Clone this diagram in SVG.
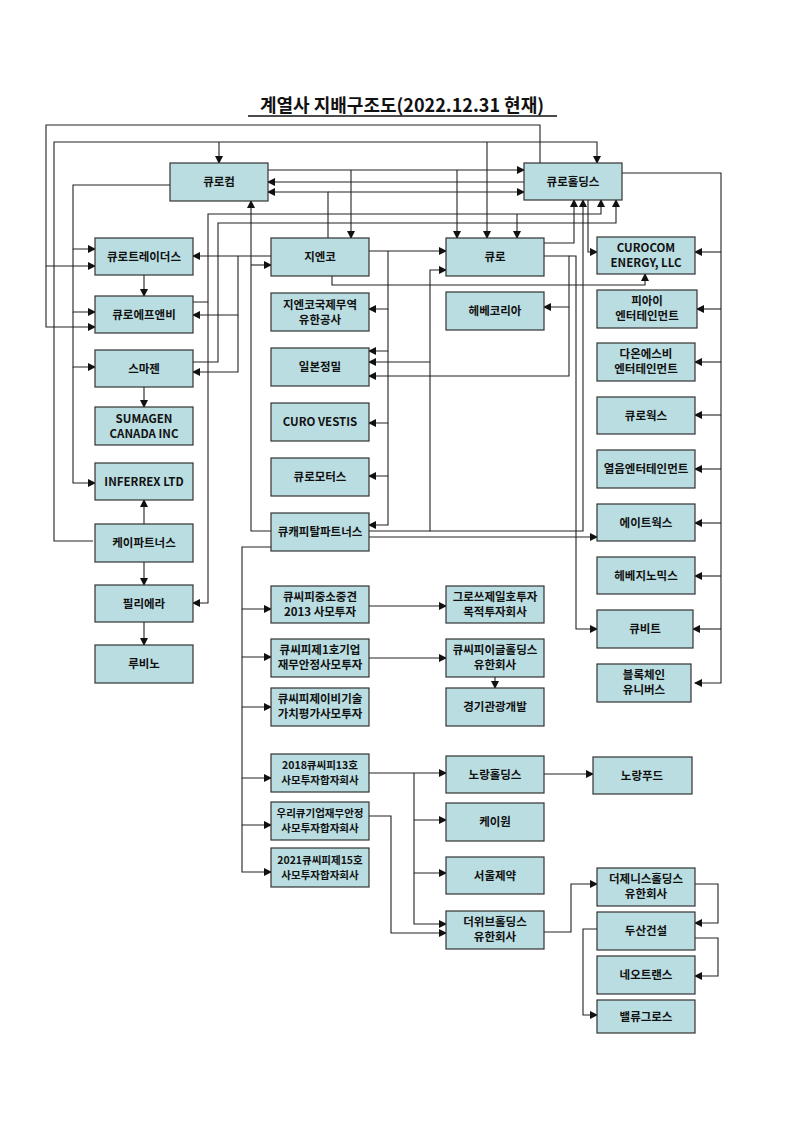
<svg xmlns="http://www.w3.org/2000/svg" width="793" height="1123" viewBox="0 0 793 1123">
<style>
.b rect{fill:#b9dde1;stroke:#333;stroke-width:1.2}
.b text,.t{font-family:"Noto Sans CJK KR","Noto Sans",sans-serif;font-weight:bold;font-size:11.5px;fill:#111;text-anchor:middle}
.s text{font-size:10.5px}
#c path{fill:none;stroke:#222;stroke-width:1.1}
#c path.a{marker-end:url(#ar)}
</style>
<defs><marker id="ar" markerWidth="8" markerHeight="8" refX="7" refY="4" orient="auto" markerUnits="userSpaceOnUse"><path d="M0,0L8,4L0,8z" fill="#111"/></marker></defs>
<rect width="793" height="1123" fill="#fff"/>
<text class="t" x="402" y="112" style="font-size:18px">계열사 지배구조도(2022.12.31 현재)</text>
<line x1="248" y1="116" x2="557" y2="116" stroke="#111" stroke-width="1.3"/>
<g id="c">
<path class="a" d="M540,163V125H46V266H95"/><path class="a" d="M46,266V327H95"/>
<path class="a" d="M93,541H54V142H597V163"/><path class="a" d="M219,142V163"/><path class="a" d="M487,142V238"/>
<path class="a" d="M170,185H73V249H95"/><path class="a" d="M73,249V312H95"/><path class="a" d="M73,312V367H95"/><path class="a" d="M73,367V483H95"/>
<path class="a" d="M268,170H524"/><path class="a" d="M351,170V238"/><path class="a" d="M457,170V238"/>
<path class="a" d="M524,182H268"/>
<path class="a" d="M328,238V192H268"/><path class="a" d="M328,192H524"/>
<path class="a" d="M193,302H208V214H601V200"/><path class="a" d="M517,214V238"/><path class="a" d="M208,302V603H193"/>
<path class="a" d="M193,362H218V223H616V200"/>
<path class="a" d="M271,531H251V201"/><path class="a" d="M251,265H271"/>
<path class="a" d="M271,256H193"/><path class="a" d="M238,256V315H193"/><path class="a" d="M238,315V372H193"/>
<path class="a" d="M144,275V296"/><path class="a" d="M144,387V407"/><path class="a" d="M144,524V500"/><path class="a" d="M144,562V585"/><path class="a" d="M144,622V645"/>
<path class="a" d="M369,251H446"/><path class="a" d="M388,251V309H369"/><path class="a" d="M388,309V351H369"/><path class="a" d="M388,351V423H369"/><path class="a" d="M388,423V476H369"/><path class="a" d="M388,476V525H369"/>
<path class="a" d="M332,276V285H645V274"/>
<path class="a" d="M369,531H430V270H446"/><path class="a" d="M430,362H369"/>
<path class="a" d="M430,531H583V200"/>
<path class="a" d="M544,243H574V200"/>
<path class="a" d="M588,200V252H597"/>
<path class="a" d="M544,256H569V307H544"/><path class="a" d="M569,307V376H369"/>
<path class="a" d="M569,256H576V629H597"/>
<path class="a" d="M369,537H597"/>
<path class="a" d="M622,173H721V683H695"/>
<path class="a" d="M721,252H695"/><path class="a" d="M721,309H697"/><path class="a" d="M721,362H695"/><path class="a" d="M721,415H695"/><path class="a" d="M721,469H695"/><path class="a" d="M721,523H695"/><path class="a" d="M721,576H695"/><path class="a" d="M721,629H693"/>
<path class="a" d="M271,547H242V609H271"/><path class="a" d="M242,609V657H271"/><path class="a" d="M242,657V707H271"/><path class="a" d="M242,707V778H271"/><path class="a" d="M242,778V825H271"/><path class="a" d="M242,825V872H271"/>
<path class="a" d="M369,606H446"/><path class="a" d="M369,658H446"/><path class="a" d="M495,677V688"/>
<path class="a" d="M369,773H446"/><path class="a" d="M414,773V820H446"/><path class="a" d="M414,820V873H446"/><path class="a" d="M414,873V924H446"/>
<path class="a" d="M369,816H391V933H446"/>
<path class="a" d="M544,774H593"/>
<path class="a" d="M544,932H571V884H597"/>
<path class="a" d="M695,884H718V923H695"/>
<path class="a" d="M695,938H718V976H695"/>
<path class="a" d="M597,929H583V1015H597"/>
</g>
<g id="n-curocom" class="b"><rect x="170" y="163" width="98" height="38"/><text x="219" y="186">큐로컴</text></g>
<g id="n-holdings" class="b"><rect x="524" y="163" width="98" height="37"/><text x="573" y="186">큐로홀딩스</text></g>
<g id="n-traders" class="b"><rect x="95" y="238" width="98" height="37"/><text x="144" y="261">큐로트레이더스</text></g>
<g id="n-fnb" class="b"><rect x="95" y="296" width="98" height="37"/><text x="144" y="319">큐로에프앤비</text></g>
<g id="n-sumagen" class="b"><rect x="95" y="350" width="98" height="37"/><text x="144" y="373">스마젠</text></g>
<g id="n-sumagenca" class="b"><rect x="95" y="407" width="98" height="38"/><text x="144" y="423">SUMAGEN</text><text x="144" y="438">CANADA INC</text></g>
<g id="n-inferrex" class="b"><rect x="95" y="463" width="98" height="37"/><text x="144" y="486">INFERREX LTD</text></g>
<g id="n-kpartners" class="b"><rect x="95" y="524" width="98" height="38"/><text x="144" y="547">케이파트너스</text></g>
<g id="n-philiera" class="b"><rect x="95" y="585" width="98" height="37"/><text x="144" y="608">필리에라</text></g>
<g id="n-rubino" class="b"><rect x="95" y="645" width="98" height="38"/><text x="144" y="668">루비노</text></g>
<g id="n-gnco" class="b"><rect x="271" y="238" width="98" height="38"/><text x="320" y="261">지엔코</text></g>
<g id="n-gncointl" class="b"><rect x="271" y="293" width="98" height="38"/><text x="320" y="309">지엔코국제무역</text><text x="320" y="324">유한공사</text></g>
<g id="n-ilbon" class="b"><rect x="271" y="348" width="98" height="38"/><text x="320" y="371">일본정밀</text></g>
<g id="n-vestis" class="b"><rect x="271" y="403" width="98" height="38"/><text x="320" y="426">CURO VESTIS</text></g>
<g id="n-motors" class="b"><rect x="271" y="458" width="98" height="38"/><text x="320" y="481">큐로모터스</text></g>
<g id="n-qcap" class="b"><rect x="271" y="513" width="98" height="38"/><text x="320" y="536">큐캐피탈파트너스</text></g>
<g id="n-curo" class="b"><rect x="446" y="238" width="98" height="38"/><text x="495" y="261">큐로</text></g>
<g id="n-hebekorea" class="b"><rect x="446" y="292" width="98" height="38"/><text x="495" y="315">헤베코리아</text></g>
<g id="n-energy" class="b"><rect x="597" y="237" width="98" height="37"/><text x="646" y="252">CUROCOM</text><text x="646" y="267">ENERGY, LLC</text></g>
<g id="n-pi" class="b"><rect x="597" y="290" width="100" height="38"/><text x="647" y="305">피아이</text><text x="647" y="320">엔터테인먼트</text></g>
<g id="n-daon" class="b"><rect x="597" y="343" width="98" height="38"/><text x="646" y="358">다온에스비</text><text x="646" y="373">엔터테인먼트</text></g>
<g id="n-works" class="b"><rect x="597" y="397" width="98" height="37"/><text x="646" y="420">큐로웍스</text></g>
<g id="n-yeoleum" class="b"><rect x="597" y="450" width="98" height="38"/><text x="646" y="473">열음엔터테인먼트</text></g>
<g id="n-eight" class="b"><rect x="597" y="504" width="98" height="37"/><text x="646" y="527">에이트웍스</text></g>
<g id="n-hebegen" class="b"><rect x="597" y="557" width="98" height="37"/><text x="646" y="580">헤베지노믹스</text></g>
<g id="n-qbit" class="b"><rect x="597" y="610" width="96" height="38"/><text x="645" y="633">큐비트</text></g>
<g id="n-block" class="b"><rect x="597" y="664" width="94" height="38"/><text x="644" y="679">블록체인</text><text x="644" y="694">유니버스</text></g>
<g id="n-cp2013" class="b"><rect x="271" y="586" width="98" height="37"/><text x="320" y="601">큐씨피중소중견</text><text x="320" y="616">2013 사모투자</text></g>
<g id="n-cp1" class="b"><rect x="271" y="639" width="98" height="38"/><text x="320" y="654">큐씨피제1호기업</text><text x="320" y="669">재무안정사모투자</text></g>
<g id="n-cpjb" class="b"><rect x="271" y="688" width="98" height="38"/><text x="320" y="703">큐씨피제이비기술</text><text x="320" y="718">가치평가사모투자</text></g>
<g id="n-growth" class="b"><rect x="446" y="586" width="98" height="37"/><text x="495" y="601">그로쓰제일호투자</text><text x="495" y="616">목적투자회사</text></g>
<g id="n-eagle" class="b"><rect x="446" y="639" width="98" height="38"/><text x="495" y="654">큐씨피이글홀딩스</text><text x="495" y="669">유한회사</text></g>
<g id="n-gyeonggi" class="b"><rect x="446" y="688" width="98" height="38"/><text x="495" y="711">경기관광개발</text></g>
<g id="n-cp13" class="b s"><rect x="271" y="754" width="98" height="38"/><text x="320" y="769">2018큐씨피13호</text><text x="320" y="784">사모투자합자회사</text></g>
<g id="n-woori" class="b s"><rect x="271" y="802" width="98" height="38"/><text x="320" y="817">우리큐기업재무안정</text><text x="320" y="832">사모투자합자회사</text></g>
<g id="n-cp15" class="b s"><rect x="271" y="848" width="98" height="39"/><text x="320" y="864">2021큐씨피제15호</text><text x="320" y="879">사모투자합자회사</text></g>
<g id="n-norang" class="b"><rect x="446" y="756" width="98" height="37"/><text x="495" y="779">노랑홀딩스</text></g>
<g id="n-kone" class="b"><rect x="446" y="803" width="98" height="38"/><text x="495" y="826">케이원</text></g>
<g id="n-seoul" class="b"><rect x="446" y="857" width="98" height="37"/><text x="495" y="880">서울제약</text></g>
<g id="n-weave" class="b"><rect x="446" y="911" width="98" height="38"/><text x="495" y="926">더위브홀딩스</text><text x="495" y="941">유한회사</text></g>
<g id="n-norangfood" class="b"><rect x="593" y="757" width="99" height="37"/><text x="642" y="780">노랑푸드</text></g>
<g id="n-zenith" class="b"><rect x="597" y="868" width="98" height="38"/><text x="646" y="883">더제니스홀딩스</text><text x="646" y="898">유한회사</text></g>
<g id="n-doosan" class="b"><rect x="597" y="912" width="98" height="38"/><text x="646" y="935">두산건설</text></g>
<g id="n-neo" class="b"><rect x="597" y="956" width="98" height="38"/><text x="646" y="979">네오트랜스</text></g>
<g id="n-value" class="b"><rect x="597" y="1000" width="98" height="33"/><text x="646" y="1021">밸류그로스</text></g>
</svg>
